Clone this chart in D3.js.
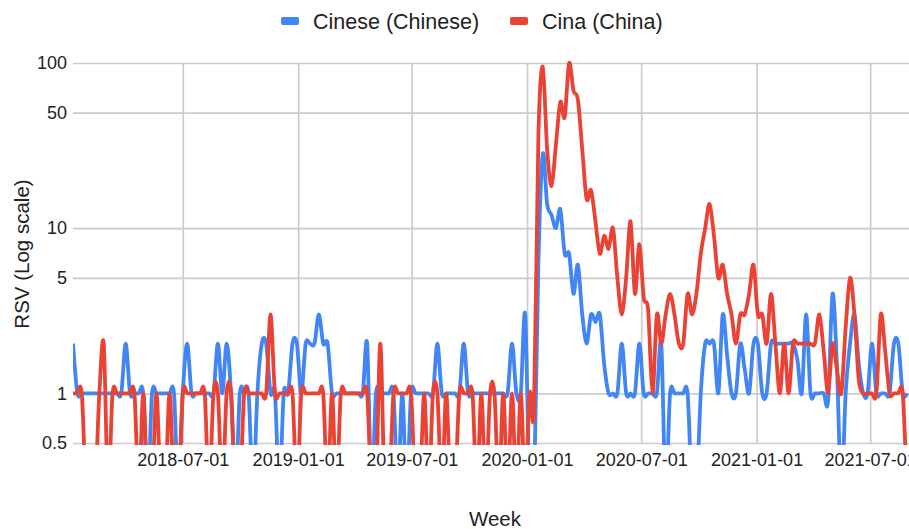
<!DOCTYPE html>
<html>
<head>
<meta charset="utf-8">
<title>Cinese vs Cina - weekly RSV</title>
<style>
  body {margin: 0; background-color: white;}
  svg text {font-family: "Liberation Sans", Arial, sans-serif; fill: #222;}
  .grid line {stroke: #cccccc; stroke-width: 1.7;}
  .grid .domain {display: none;}
  .tick text {font-size: 18px;}
  .title {font-size: 20.5px;}
  .legend text {font-size: 21.5px;}
</style>
</head>
<body>
<svg id="chart" width="909" height="529"></svg>
<script src="https://d3js.org/d3.v7.min.js"></script>
<script>
// weekly series, first week 2018-01-07
var firstWeek = "2018-01-07";
var lastDate = "2021-09-01";
var seriesNames = ["Cinese (Chinese)", "Cina (China)"];
var seriesColors = ["#4285f4", "#ea4335"];

var cineseValues = [
  2,1,1,1,1,1,1,1,1,1,
  1,1,2,1,1,1,1,0,1,1,
  1,1,1,1,0,1,2,1,1,1,
  1,1,1,2,1,2,1,0,1,1,
  1,0,1,2,2,1,1,0,1,1,
  2,2,1,2,2,2,3,2,2,1,
  1,1,1,1,1,1,1,2,0,1,
  1,1,1,1,0,1,0,1,1,1,
  1,1,1,2,1,1,1,1,1,2,
  1,1,1,1,1,1,1,1,1,1,
  2,1,1,3,0,0,6,28,14,12,
  10,13,7,7,4,6,3,2,3,2.7,
  3,1.5,1,1,1,2,1,1,1,2,
  1,1,1,1,2,0,1,1,1,1,
  1,0,0,1,2,2,2,1,3,1.7,
  1,1,2,1.4,1,2,2,1,1,2,
  2,2,2,2,2,1.6,1,3,1,1,
  1,1,0.9,4,1.5,0,1,2,3,1.5,
  1,1,2,1,1,1,1,2,2,1,1
];

var cinaValues = [
  1,1,1,0,0,0,1,2,0,1,
  1,1,1,1,1,0,1,0,0,1,
  0,0,1,0,0,1,1,1,1,1,
  1,0,1,1,0,1,1,0,0,1,
  1,1,1,1,1,3,1,1,1,1,
  1,0,1,1,1,1,1,1,0,1,
  0,1,1,1,1,1,1,1,0,0,
  2,0,0,1,1,1,1,1,0,0,
  1,0,1,1,0,1,0,0,1,1,
  1,1,0,1,0,1,1,0,1,0,
  1,0,1,0,1,0.8,35,95,30,18,
  32,58,47,100,68,60,30,15,17,11,
  7,9,7.5,10,5,3,5,11,4,8,
  3.8,3.2,1,3,2,3,4,3,2,2,
  4,3,4,7,10,14,9,5,6,4,
  3,2,3,3,4,6,3,3,2,4,
  2,1,2,1,2,2,2,2,2,2,
  3,1.8,1,2,1.4,1,2.5,5,3,1.2,
  1,1,1,1,3,1.8,1,1,1,1,0
];

var yTicks = [0.5, 1, 5, 10, 50, 100];
var xTicks = ["2018-07-01", "2019-01-01", "2019-07-01", "2020-01-01",
              "2020-07-01", "2021-01-01", "2021-07-01"];

var area = {left: 73, right: 909, top: 63, bottom: 443};
var parse = d3.utcParse("%Y-%m-%d");
var start = parse(firstWeek);

var x = d3.scaleUtc()
    .domain([start, parse(lastDate)])
    .range([area.left, area.right]);
var y = d3.scaleLog()
    .domain([0.5, 100])
    .range([area.bottom, area.top]);

var svg = d3.select("#chart");

// gridlines + tick labels
svg.append("g")
    .attr("class", "grid")
    .attr("transform", "translate(" + area.left + ",0)")
    .call(d3.axisLeft(y).tickValues(yTicks)
        .tickSize(-(area.right - area.left) - 20)
        .tickPadding(6)
        .tickFormat(function(d) { return String(d); }));

svg.append("g")
    .attr("class", "grid")
    .attr("transform", "translate(0," + area.bottom + ")")
    .call(d3.axisBottom(x).tickValues(xTicks.map(parse))
        .tickSize(-(area.bottom - area.top))
        .tickPadding(10)
        .tickFormat(d3.utcFormat("%Y-%m-%d")));

// lines
svg.append("clipPath").attr("id", "plotClip")
  .append("rect")
    .attr("x", area.left)
    .attr("y", area.top - 6)
    .attr("width", area.right - area.left + 20)
    .attr("height", area.bottom - area.top + 8);

function toPoints(values) {
  return values.map(function(v, i) {
    return {date: d3.utcDay.offset(start, 7 * i), value: v};
  });
}

var line = d3.line()
    .x(function(d) { return x(d.date); })
    .y(function(d) { return y(Math.max(d.value, 0.25)); })
    .curve(d3.curveCardinal.tension(0.05));

var series = [cineseValues, cinaValues];
svg.append("g")
    .attr("clip-path", "url(#plotClip)")
  .selectAll("path")
  .data(series)
  .join("path")
    .attr("d", function(d) { return line(toPoints(d)); })
    .attr("fill", "none")
    .attr("stroke", function(d, i) { return seriesColors[i]; })
    .attr("stroke-width", 3.8)
    .attr("stroke-linejoin", "round");

// axis titles
svg.append("text")
    .attr("class", "title")
    .attr("transform", "translate(22,254) rotate(-90)")
    .attr("text-anchor", "middle")
    .attr("dy", "0.35em")
    .text("RSV (Log scale)");

svg.append("text")
    .attr("class", "title")
    .attr("x", 495)
    .attr("y", 519)
    .attr("text-anchor", "middle")
    .attr("dy", "0.35em")
    .text("Week");

// legend
var legendX = [281, 510];
var legend = svg.append("g").attr("class", "legend")
  .selectAll("g")
  .data(seriesNames)
  .join("g")
    .attr("transform", function(d, i) { return "translate(" + legendX[i] + ",21)"; });

legend.append("rect")
    .attr("x", 0).attr("y", -4)
    .attr("width", 18).attr("height", 8)
    .attr("rx", 2)
    .attr("fill", function(d, i) { return seriesColors[i]; });

legend.append("text")
    .attr("x", 32)
    .attr("dy", "0.35em")
    .text(function(d) { return d; });
</script>
</body>
</html>
